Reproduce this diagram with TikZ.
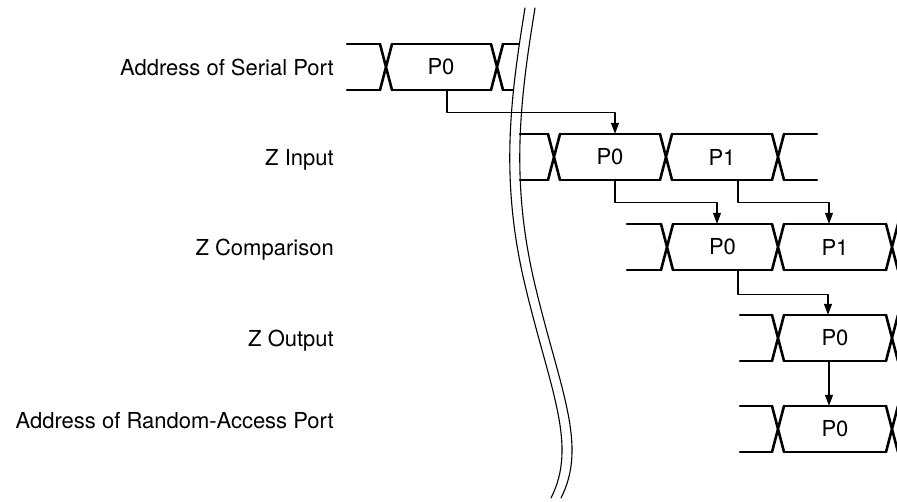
\documentclass[tikz,border=0pt]{standalone}
\usepackage{fontspec}
\setmainfont{TeX Gyre Heros}
\usetikzlibrary{arrows.meta}

% one bus line: centre y, horizontal runs a/b, crossings
\newcommand{\bussig}[3]{%
	\foreach \a/\b in {#2}
		\draw[bus] (\a,#1-23) -- (\b,#1-23) (\a,#1+23) -- (\b,#1+23);
	\foreach \c in {#3}
		\draw[bus] (\c-6,#1-23) -- (\c+6,#1+23) (\c-6,#1+23) -- (\c+6,#1-23);
}

\begin{document}
\begin{tikzpicture}[
						x=1pt, y=-1pt,
						every node/.style={font=\fontsize{22}{26}\selectfont, inner sep=0pt},
						bus/.style={line width=2.6pt},
						flow/.style={line width=1.1pt, -{Triangle[length=11pt,width=8pt]}},
						brk/.style={line width=1.1pt},
						word/.style={minimum width=98pt, minimum height=46pt},
						line cap=round,
						line join=round
						]
						
						\clip (0,0) rectangle (897,501);
						
						% labels
						\node[anchor=base east] (serial) at (334,75) {Address of Serial Port};
						\node[anchor=base east] (zin) at (334,165) {Z Input};
						\node[anchor=base east] (zcmp) at (334,255) {Z Comparison};
						\node[anchor=base east] (zout) at (334,346) {Z Output};
						\node[anchor=base east] (rand) at (334,428) {Address of Random-Access Port};
						
						% serial port address, cut at the break
						\begin{scope}
							\clip (0,0) -- (525,0) -- (525,8) .. controls (510,100) and (500,180) .. (525,285)
							.. controls (550,390) and (578,445) .. (551,498) -- (551,501) -- (0,501) -- cycle;
							\bussig{67}{347/380, 392/491, 503/530}{386, 497}
						\end{scope}
						
						\bussig{157}{520/548, 560/660, 672/772, 784/817}{554, 666, 778}
						\bussig{247}{627/661, 673/772, 784/886}{667, 778, 892}
						\bussig{338}{740/772, 784/886}{778, 892}
						\bussig{429}{740/772, 784/886}{778, 892}
						
						\node[word] (sp0) at (441,67) {P0};
						\node[word] (in0) at (610,157) {P0};
						\node[word] (in1) at (722,157) {P1};
						\node[word] (cp0) at (722.5,247) {P0};
						\node[word] (cp1) at (835,247) {P1};
						\node[word] (out0) at (835,338) {P0};
						\node[word] (ra0) at (835,429) {P0};
						
						\draw[flow] ([xshift=6pt]sp0.south) -- ++(0,22) -| ([xshift=5pt]in0.north);
						\draw[flow] ([xshift=5pt]in0.south) -- ++(0,22) -| ([xshift=-5.5pt]cp0.north);
						\draw[flow] ([xshift=16pt]in1.south) -- ++(0,22) -| ([xshift=-6pt]cp1.north);
						\draw[flow] ([xshift=15.5pt]cp0.south) -- ++(0,24) -| ([xshift=-7pt]out0.north);
						\draw[flow] ([xshift=-6pt]out0.south) -- ([xshift=-6pt]ra0.north);
						
						% break in the time axis
						\foreach \dx in {0,10}
							\draw[brk, xshift=\dx pt] (525,8) .. controls (510,100) and (500,180) .. (525,285)
							.. controls (550,390) and (578,445) .. (551,498);
						
					\end{tikzpicture}
\end{document}
